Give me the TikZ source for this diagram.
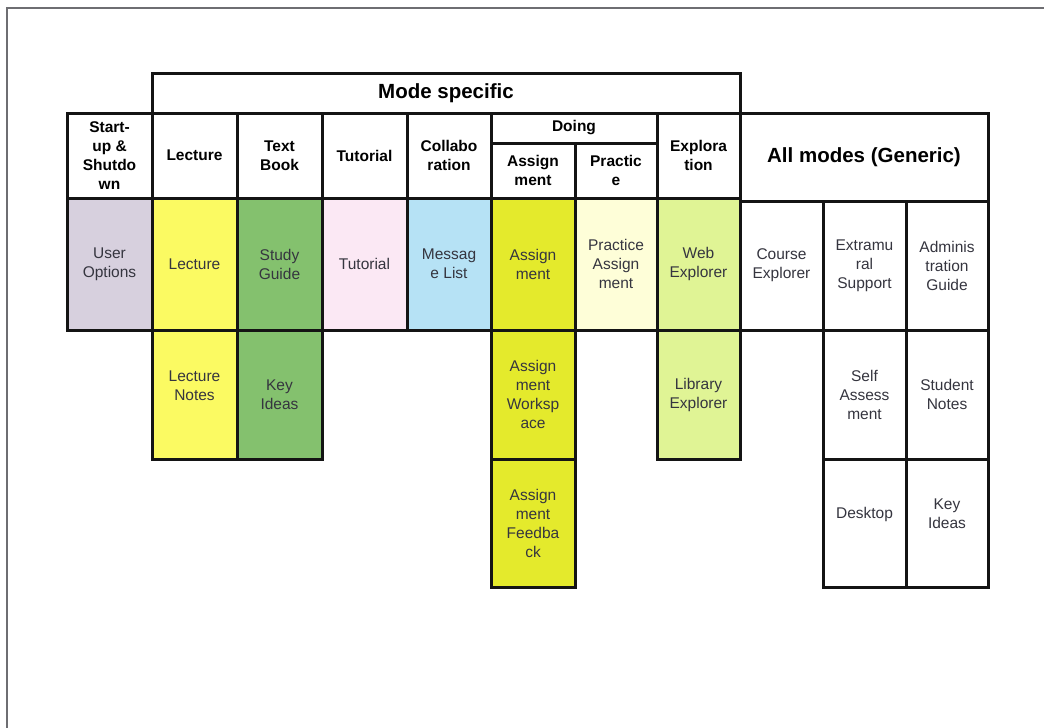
\documentclass[tikz,border=0pt]{standalone}
\usepackage{fontspec}
\setmainfont{Liberation Sans}
\begin{document}
\definecolor{optgray}{HTML}{D7D0DE}
\definecolor{lectyellow}{HTML}{FBFA62}
\definecolor{bookgreen}{HTML}{84C16E}
\definecolor{tutpink}{HTML}{FBE8F4}
\definecolor{msgblue}{HTML}{B6E2F5}
\definecolor{assignlime}{HTML}{E4EA2C}
\definecolor{practcream}{HTML}{FEFED8}
\definecolor{explgreen}{HTML}{E0F495}
\definecolor{celltext}{HTML}{35353F}
\definecolor{framegray}{HTML}{6E6E72}
\tikzset{
  cellbox/.style={draw=black!92, line width=3pt, inner sep=0pt, align=center,
    text=celltext, font=\fontsize{15.5}{19}\selectfont},
  headbox/.style={cellbox, text=black, font=\bfseries\fontsize{15.5}{18.8}\selectfont},
  titlebox/.style={cellbox, text=black, font=\bfseries\fontsize{20.5}{24}\selectfont},
  frameline/.style={draw=framegray, line width=2pt},
}
% name, x1, y1, x2, y2, fill, text, style
\newcommand\cellnode[8]{%
  \pgfmathsetmacro\cellw{#4-#2}%
  \pgfmathsetmacro\cellh{#5-#3}%
  \node[#8, fill=#6, minimum width=\cellw pt, minimum height=\cellh pt]
    (#1) at ({(#2+#4)/2},{(#3+#5)/2}) {#7};}
\begin{tikzpicture}[x=1pt,y=-1pt]
\useasboundingbox (0,0) rectangle (1044,728);
% page frame (top and left edges)
\draw[frameline] (7,728) -- (7,8) -- (1044,8);

% group titles
\cellnode{mode}{152}{73}{740}{113}{white}{Mode specific}{titlebox}
\cellnode{generic}{740}{113}{988}{201}{white}{All modes (Generic)}{titlebox}

% column headers
\cellnode{hstart}{67}{113}{152}{198}{white}{Start-\\up \&\\Shutdo\\wn}{headbox}
\cellnode{hlect}{152}{113}{237}{198}{white}{Lecture}{headbox}
\cellnode{hbook}{237}{113}{322}{198}{white}{Text\\Book}{headbox}
\cellnode{htut}{322}{113}{407}{198}{white}{Tutorial}{headbox}
\cellnode{hcollab}{407}{113}{491}{198}{white}{Collabo\\ration}{headbox}
\cellnode{hdoing}{491}{113}{657}{143}{white}{Doing}{headbox}
\cellnode{hassign}{491}{143}{575}{198}{white}{Assign\\ment}{headbox}
\cellnode{hpract}{575}{143}{657}{198}{white}{Practic\\e}{headbox}
\cellnode{hexpl}{657}{113}{740}{198}{white}{Explora\\tion}{headbox}

% mode specific tools, first row
\cellnode{useropt}{67}{198}{152}{330}{optgray}{User\\Options}{cellbox}
\cellnode{lecture}{152}{198}{237}{330}{lectyellow}{Lecture}{cellbox}
\cellnode{study}{237}{198}{322}{330}{bookgreen}{Study\\Guide}{cellbox}
\cellnode{tutorial}{322}{198}{407}{330}{tutpink}{Tutorial}{cellbox}
\cellnode{msglist}{407}{198}{491}{330}{msgblue}{Messag\\e List}{cellbox}
\cellnode{assign}{491}{198}{575}{330}{assignlime}{Assign\\ment}{cellbox}
\cellnode{practice}{575}{198}{657}{330}{practcream}{Practice\\Assign\\ment}{cellbox}
\cellnode{web}{657}{198}{740}{330}{explgreen}{Web\\Explorer}{cellbox}

% second row
\cellnode{lectnotes}{152}{330}{237}{459}{lectyellow}{}{cellbox}
\node[cellbox, draw=none, fill=none] (lectnotes-t) at ([yshift=9pt]lectnotes.center) {Lecture\\Notes};
\cellnode{keyideas}{237}{330}{322}{459}{bookgreen}{Key\\Ideas}{cellbox}
\cellnode{workspace}{491}{330}{575}{459}{assignlime}{Assign\\ment\\Worksp\\ace}{cellbox}
\cellnode{library}{657}{330}{740}{459}{explgreen}{Library\\Explorer}{cellbox}

% third row
\cellnode{feedback}{491}{459}{575}{587}{assignlime}{Assign\\ment\\Feedba\\ck}{cellbox}

% generic tools
\cellnode{course}{740}{201}{823}{330}{white}{Course\\Explorer}{cellbox}
\cellnode{extramural}{823}{201}{906}{330}{white}{Extramu\\ral\\Support}{cellbox}
\cellnode{admin}{906}{201}{988}{330}{white}{Adminis\\tration\\Guide}{cellbox}
\cellnode{selfassess}{823}{330}{906}{459}{white}{Self\\Assess\\ment}{cellbox}
\cellnode{notes}{906}{330}{988}{459}{white}{Student\\Notes}{cellbox}
\cellnode{desktop}{823}{459}{906}{587}{white}{}{cellbox}
\node[cellbox, draw=none, fill=none] (desktop-t) at ([yshift=9pt]desktop.center) {Desktop};
\cellnode{gkeyideas}{906}{459}{988}{587}{white}{}{cellbox}
\node[cellbox, draw=none, fill=none] (gkeyideas-t) at ([yshift=9pt]gkeyideas.center) {Key\\Ideas};
\end{tikzpicture}
\end{document}
